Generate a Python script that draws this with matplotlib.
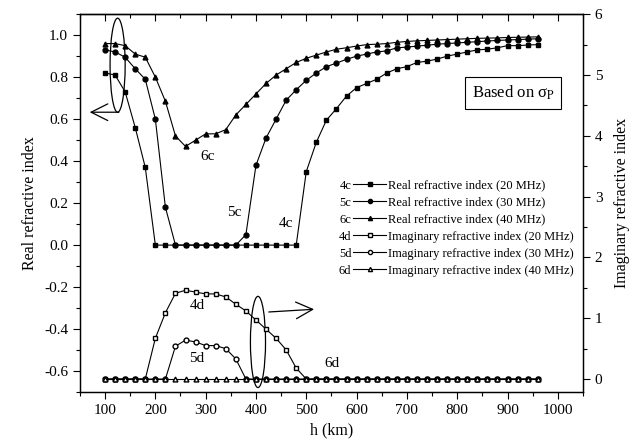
import matplotlib.pyplot as plt
from matplotlib.patches import Ellipse
from matplotlib.lines import Line2D
from matplotlib.ticker import MultipleLocator

plt.rcParams['font.family'] = ['Liberation Serif', 'DejaVu Serif']
plt.rcParams['mathtext.fontset'] = 'stix'

# altitude grid (km)
h = [100, 120, 140, 160, 180, 200, 220, 240, 260, 280, 300, 320, 340, 360, 380,
     400, 420, 440, 460, 480, 500, 520, 540, 560, 580, 600, 620, 640, 660, 680,
     700, 720, 740, 760, 780, 800, 820, 840, 860, 880, 900, 920, 940, 960]

# real refractive index (left axis)
real_20 = [0.82, 0.81, 0.73, 0.56, 0.37,
           0, 0, 0, 0, 0, 0, 0, 0, 0, 0, 0, 0, 0, 0, 0,
           0.35, 0.49, 0.595, 0.65, 0.71, 0.75, 0.77, 0.79, 0.82, 0.84,
           0.85, 0.87, 0.876, 0.886, 0.90, 0.91, 0.92, 0.93, 0.933, 0.94,
           0.95, 0.95, 0.953, 0.955]
real_30 = [0.93, 0.92, 0.895, 0.84, 0.79, 0.60, 0.18,
           0, 0, 0, 0, 0, 0, 0,
           0.05, 0.38, 0.51, 0.60, 0.69, 0.74, 0.785, 0.82, 0.85, 0.867,
           0.885, 0.90, 0.91, 0.92, 0.925, 0.94, 0.943, 0.948, 0.952, 0.957,
           0.96, 0.963, 0.966, 0.969, 0.972, 0.975, 0.977, 0.979, 0.981, 0.983]
real_40 = [0.96, 0.96, 0.95, 0.91, 0.895, 0.80, 0.685, 0.52, 0.47, 0.50,
           0.53, 0.53, 0.55, 0.62, 0.67, 0.72, 0.77, 0.81, 0.84, 0.87,
           0.89, 0.905, 0.92, 0.933, 0.94, 0.948, 0.955, 0.957, 0.96, 0.966,
           0.97, 0.973, 0.975, 0.977, 0.979, 0.981, 0.983, 0.985, 0.986, 0.987,
           0.989, 0.99, 0.991, 0.992]

# imaginary refractive index (right axis)
imag_20 = [0, 0, 0, 0, 0,
           0.67, 1.09, 1.41, 1.46, 1.43, 1.40, 1.40, 1.35, 1.23, 1.12,
           0.97, 0.82, 0.67, 0.48, 0.18,
           0, 0, 0, 0, 0, 0, 0, 0, 0, 0, 0, 0, 0, 0, 0, 0, 0, 0, 0, 0,
           0, 0, 0, 0]
imag_30 = [0, 0, 0, 0, 0, 0, 0,
           0.54, 0.64, 0.61, 0.55, 0.55, 0.50, 0.33,
           0, 0, 0, 0, 0, 0, 0, 0, 0, 0, 0, 0, 0, 0, 0, 0, 0, 0, 0, 0,
           0, 0, 0, 0, 0, 0, 0, 0, 0, 0]
imag_40 = [0] * 44

codes = ['4c', '5c', '6c', '4d', '5d', '6d']
labels = ['Real refractive index (20 MHz)', 'Real refractive index (30 MHz)',
          'Real refractive index (40 MHz)', 'Imaginary refractive index (20 MHz)',
          'Imaginary refractive index (30 MHz)', 'Imaginary refractive index (40 MHz)']

fig = plt.figure(figsize=(6.34, 4.43), dpi=100)
ax = fig.add_axes([0.126, 0.115, 0.7935, 0.853])
ax2 = ax.twinx()

line_kw = dict(color='black', lw=0.8, ms=3.5)
ax.plot(h, real_20, marker='s', **line_kw)
ax.plot(h, real_30, marker='o', **line_kw)
ax.plot(h, real_40, marker='^', **line_kw)
ax2.plot(h, imag_20, marker='s', mfc='white', **line_kw)
ax2.plot(h, imag_30, marker='o', mfc='white', **line_kw)
ax2.plot(h, imag_40, marker='^', mfc='white', **line_kw)

ax.set_xlim(50, 1050)
ax.set_ylim(-0.7, 1.1)
ax2.set_ylim(-0.214, 6)

ax.xaxis.set_minor_locator(MultipleLocator(50))
ax.yaxis.set_minor_locator(MultipleLocator(0.1))
ax2.yaxis.set_minor_locator(MultipleLocator(0.5))
ax.set_xticks(range(100, 1001, 100))
ax.set_yticks([-0.6, -0.4, -0.2, 0.0, 0.2, 0.4, 0.6, 0.8, 1.0])
ax.set_yticklabels(['-0.6', '-0.4', '-0.2', '0.0', '0.2', '0.4', '0.6', '0.8', '1.0'])
ax2.set_yticks(range(0, 7))

ax.tick_params(axis='both', which='major', direction='out', length=5, width=0.8, labelsize=11)
ax.tick_params(axis='both', which='minor', direction='out', length=3, width=0.8)
ax2.tick_params(axis='y', which='major', direction='out', length=5, width=0.8, labelsize=11)
ax2.tick_params(axis='y', which='minor', direction='out', length=3, width=0.8)
for a in (ax, ax2):
    for s in a.spines.values():
        s.set_linewidth(0.9)

# top axis: inward ticks, no labels
top = ax.secondary_xaxis('top')
top.set_xticks(range(100, 1001, 100))
top.xaxis.set_minor_locator(MultipleLocator(50))
top.tick_params(which='major', direction='in', length=5, width=0.8, labeltop=False)
top.tick_params(which='minor', direction='in', length=3, width=0.8)
top.spines['top'].set_linewidth(0.9)

ax.set_xlabel('h (km)', fontsize=11.5)
ax.set_ylabel('Real refractive index', fontsize=11.5)
ax2.set_ylabel('Imaginary refractive index', fontsize=11.5, labelpad=8)

# curve tags
ax.text(303, 0.42, '6c', fontsize=11, ha='center', va='center')
ax.text(357, 0.157, '5c', fontsize=11, ha='center', va='center')
ax.text(460, 0.105, '4c', fontsize=11, ha='center', va='center')
ax.text(284, -0.286, '4d', fontsize=11, ha='center', va='center')
ax.text(282, -0.538, '5d', fontsize=11, ha='center', va='center')
ax.text(551, -0.562, '6d', fontsize=11, ha='center', va='center')

# ellipses with arrows
ax.add_patch(Ellipse((125, 0.857), 30, 0.448, fill=False, ec='black', lw=0.9))
ax.annotate('', xy=(64, 0.633), xytext=(133, 0.633),
            arrowprops=dict(arrowstyle='->,head_length=1.2,head_width=0.6', lw=0.9, color='black'))
ax2.add_patch(Ellipse((404, 0.61), 30, 1.50, fill=False, ec='black', lw=0.9))
ax2.annotate('', xy=(521, 1.15), xytext=(420, 1.10),
             arrowprops=dict(arrowstyle='->,head_length=1.2,head_width=0.6', lw=0.9, color='black'))

ax.text(911, 0.724, r'Based on σ$_{\rm P}$', fontsize=12, ha='center', va='center',
        bbox=dict(boxstyle='square,pad=0.4', fc='white', ec='black', lw=0.8))

# legend: code + handle, then description in a second legend
handles = [
    Line2D([], [], color='black', lw=0.8, marker='s', ms=3),
    Line2D([], [], color='black', lw=0.8, marker='o', ms=3),
    Line2D([], [], color='black', lw=0.8, marker='^', ms=3),
    Line2D([], [], color='black', lw=0.8, marker='s', ms=3, mfc='white'),
    Line2D([], [], color='black', lw=0.8, marker='o', ms=3, mfc='white'),
    Line2D([], [], color='black', lw=0.8, marker='^', ms=3, mfc='white'),
]
leg_a = ax2.legend(handles, codes, markerfirst=False, frameon=False,
                   loc='upper left', bbox_to_anchor=(0.515, 0.562), fontsize=9,
                   handlelength=2.7, handletextpad=0.1,
                   labelspacing=0.4, borderpad=0, borderaxespad=0)
ax2.add_artist(leg_a)
blanks = [Line2D([], [], linestyle='none') for _ in labels]
ax2.legend(blanks, labels, frameon=False,
           loc='upper left', bbox_to_anchor=(0.613, 0.562), fontsize=9,
           handlelength=0, handletextpad=0,
           labelspacing=0.4, borderpad=0, borderaxespad=0)

fig.savefig('out.png', dpi=100)
